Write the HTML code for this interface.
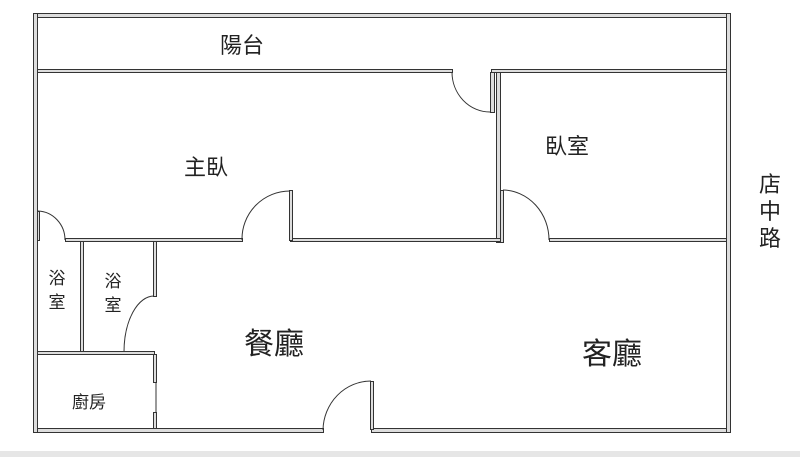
<!DOCTYPE html>
<html><head><meta charset="utf-8"><style>
body{margin:0;background:#fff;width:800px;height:457px;overflow:hidden}
.t{font-family:"Liberation Sans","Noto Sans CJK TC",sans-serif;fill:#222}
</style></head><body>
<svg width="800" height="457" xmlns="http://www.w3.org/2000/svg">
<rect x="0" y="451" width="800" height="6" fill="#e6e6e6"/>
<g fill="#ddd" stroke="#333" stroke-width="1">
<!-- outer -->
<rect x="33.5" y="13.5" width="697" height="4"/>
<rect x="33.5" y="428.5" width="290" height="4"/>
<rect x="371.5" y="428.5" width="359" height="4"/>
<rect x="33.5" y="13.5" width="4" height="419"/>
<rect x="726.5" y="13.5" width="4" height="419"/>
<!-- balcony wall -->
<rect x="37.5" y="69.5" width="415" height="3"/>
<rect x="491.5" y="69.5" width="235" height="3"/>
<rect x="490.5" y="72.5" width="4" height="40"/>
<rect x="496.5" y="72.5" width="4" height="170"/>
<!-- master bottom -->
<rect x="65.5" y="238.5" width="177" height="3"/>
<rect x="290.5" y="238.5" width="210" height="3"/>
<rect x="289.5" y="190.5" width="3" height="50"/>
<rect x="500.5" y="190.5" width="3" height="52"/>
<rect x="549.5" y="238.5" width="177" height="3"/>
<rect x="37.5" y="211.5" width="2" height="29"/>
<!-- baths -->
<rect x="80.5" y="241.5" width="3" height="110"/>
<rect x="153.5" y="241.5" width="3" height="55"/>
<rect x="37.5" y="351.5" width="117" height="3"/>
<rect x="153.5" y="354.5" width="3" height="28"/>
<rect x="153.5" y="412.5" width="3" height="16"/>
<rect x="370.5" y="381.5" width="3" height="48"/>
</g>
<line x1="156" y1="382" x2="156" y2="413" stroke="#333" stroke-width="1"/>
<g fill="none" stroke="#333" stroke-width="1">
<path d="M452 72 A38 40 0 0 0 490 112"/>
<path d="M503 190 A47 50 0 0 1 549 240"/>
<path d="M290 191 A48 48 0 0 0 242 240"/>
<path d="M38 211 A28 29 0 0 1 65 240"/>
<path d="M154 296 A30 56 0 0 0 124 352"/>
<path d="M371 381 A48 50 0 0 0 323 430"/>
</g>
<g class="t">
<text x="242" y="53" font-size="22" text-anchor="middle">陽台</text>
<text x="206" y="175" font-size="22" text-anchor="middle">主臥</text>
<text x="567" y="154" font-size="22" text-anchor="middle">臥室</text>
<text x="770" y="192" font-size="22" text-anchor="middle">店</text>
<text x="770" y="219" font-size="22" text-anchor="middle">中</text>
<text x="770" y="246" font-size="22" text-anchor="middle">路</text>
<text x="57" y="284" font-size="17" text-anchor="middle">浴</text>
<text x="57" y="308" font-size="17" text-anchor="middle">室</text>
<text x="113" y="287" font-size="17" text-anchor="middle">浴</text>
<text x="113" y="311" font-size="17" text-anchor="middle">室</text>
<text x="274" y="354" font-size="30" text-anchor="middle">餐廳</text>
<text x="612" y="364" font-size="30" text-anchor="middle">客廳</text>
<text x="89" y="408" font-size="17" text-anchor="middle">廚房</text>
</g>
</svg>
</body></html>
